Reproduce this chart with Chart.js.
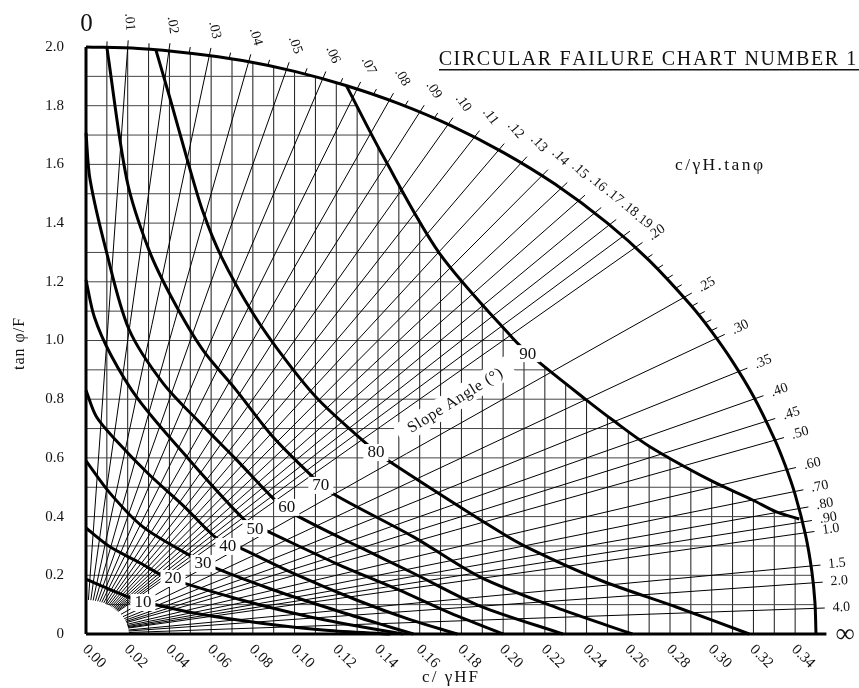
<!DOCTYPE html>
<html>
<head>
<meta charset="utf-8">
<script src="https://cdn.jsdelivr.net/npm/chart.js@4.4.0/dist/chart.umd.min.js"></script>
<style>
  body { margin: 0; background: #fff; }
</style>
</head>
<body>
<canvas id="failureChart" width="859" height="688"></canvas>
<script>
// axis ticks
var xTicks = [0.00, 0.02, 0.04, 0.06, 0.08, 0.10, 0.12, 0.14, 0.16, 0.18, 0.20, 0.22, 0.24, 0.26, 0.28, 0.30, 0.32, 0.34];
var yTicks = [0, 0.2, 0.4, 0.6, 0.8, 1.0, 1.2, 1.4, 1.6, 1.8, 2.0];
var yTickLabels = ['0', '0.2', '0.4', '0.6', '0.8', '1.0', '1.2', '1.4', '1.6', '1.8', '2.0'];

// c/(gamma H tan phi) radial lines
var ratioLines = [0.01, 0.02, 0.03, 0.04, 0.05, 0.06, 0.07, 0.08, 0.09, 0.10, 0.11, 0.12, 0.13, 0.14, 0.15,
  0.16, 0.17, 0.18, 0.19, 0.20, 0.25, 0.30, 0.35, 0.40, 0.45, 0.50, 0.60, 0.70, 0.80, 0.90, 1.0, 1.5, 2.0, 4.0];
var ratioLabels = ['.01', '.02', '.03', '.04', '.05', '.06', '.07', '.08', '.09', '.10', '.11', '.12', '.13', '.14', '.15',
  '.16', '.17', '.18', '.19', '.20', '.25', '.30', '.35', '.40', '.45', '.50', '.60', '.70', '.80', '.90', '1.0', '1.5', '2.0', '4.0'];
var minorTicks = [0.005, 0.015, 0.025, 0.035, 0.045, 0.055, 0.065, 0.075, 0.085, 0.095,
  0.21, 0.22, 0.23, 0.24, 0.26, 0.27, 0.28, 0.29];

// outer and inner boundary of the chart
var outerA = 0.35, outerB = 2.0;
var innerA = 0.0206, innerB = 0.116;
var arcX = [0, 0.025, 0.05, 0.075, 0.10, 0.125, 0.15, 0.175, 0.20, 0.225, 0.25, 0.27, 0.29, 0.30, 0.31, 0.32, 0.33, 0.335, 0.34, 0.345, 0.348, 0.3495, 0.35];
var arcY = [2.0, 1.995, 1.979, 1.954, 1.917, 1.868, 1.807, 1.732, 1.641, 1.532, 1.400, 1.273, 1.120, 1.030, 0.928, 0.810, 0.666, 0.579, 0.475, 0.337, 0.214, 0.107, 0];

// slope angle curves
var slopeAngles = [10, 20, 30, 40, 50, 60, 70, 80, 90];
var curveX = [
  [0, 0.008, 0.0216, 0.032, 0.055, 0.085, 0.115, 0.146],
  [0, 0.0115, 0.026, 0.0369, 0.0465, 0.075, 0.105, 0.13, 0.152],
  [0, 0.0115, 0.0273, 0.0513, 0.061, 0.09, 0.12, 0.14, 0.157],
  [0, 0.005, 0.015, 0.03, 0.047, 0.0633, 0.073, 0.10, 0.13, 0.155, 0.178],
  [0, 0.004, 0.012, 0.025, 0.045, 0.077, 0.0858, 0.12, 0.15, 0.175, 0.20],
  [0, 0.0019, 0.0096, 0.0205, 0.0369, 0.056, 0.072, 0.0915, 0.1006, 0.13, 0.157, 0.189, 0.2286],
  [0.010, 0.0196, 0.0302, 0.0417, 0.056, 0.072, 0.0897, 0.1088, 0.117, 0.157, 0.189, 0.2286, 0.262],
  [0.0335, 0.0402, 0.0484, 0.056, 0.065, 0.080, 0.0958, 0.1116, 0.134, 0.143, 0.197, 0.2113, 0.2463, 0.283, 0.318],
  [0.125, 0.1423, 0.1694, 0.2046, 0.216, 0.240, 0.2525, 0.27, 0.299, 0.3196, 0.331, 0.342]
];
var curveY = [
  [0.187, 0.162, 0.123, 0.102, 0.067, 0.036, 0.013, 0],
  [0.361, 0.297, 0.242, 0.198, 0.174, 0.115, 0.062, 0.027, 0],
  [0.59, 0.48, 0.365, 0.262, 0.228, 0.15, 0.08, 0.036, 0],
  [0.83, 0.74, 0.655, 0.545, 0.435, 0.322, 0.296, 0.205, 0.115, 0.05, 0],
  [1.206, 1.08, 0.95, 0.80, 0.63, 0.382, 0.354, 0.24, 0.15, 0.07, 0],
  [1.707, 1.55, 1.308, 1.04, 0.855, 0.71, 0.595, 0.45, 0.405, 0.30, 0.207, 0.095, 0],
  [1.999, 1.547, 1.308, 1.138, 0.968, 0.831, 0.671, 0.535, 0.484, 0.331, 0.194, 0.082, 0],
  [1.99, 1.827, 1.62, 1.44, 1.284, 1.093, 0.933, 0.797, 0.651, 0.600, 0.354, 0.296, 0.184, 0.092, 0],
  [1.866, 1.63, 1.298, 1.008, 0.933, 0.797, 0.729, 0.64, 0.525, 0.4566, 0.416, 0.392]
];
// where the angle labels sit on each curve
var angleLabelX = [0.0273, 0.0417, 0.0561, 0.068, 0.081, 0.0963, 0.1126, 0.139, 0.2118];
var angleLabelY = [0.109, 0.191, 0.242, 0.300, 0.361, 0.433, 0.508, 0.620, 0.957];
var slopeTitle = 'Slope Angle (°)';
var slopeTitleAt = { x: 0.1768, y: 0.797 };

var SERIF = '"Liberation Serif", "DejaVu Serif", serif';

function toPoints(xs, ys) {
  return xs.map(function (x, i) { return { x: x, y: ys[i] }; });
}
function outerPoint(r) {
  var y = 1 / Math.sqrt((r / outerA) * (r / outerA) + 1 / (outerB * outerB));
  return { x: r * y, y: y };
}
function innerPoint(r) {
  var y = 1 / Math.sqrt((r / innerA) * (r / innerA) + 1 / (innerB * innerB));
  return { x: r * y, y: y };
}
function lineSet(data, width) {
  return { data: data, showLine: true, borderColor: '#000', borderWidth: width, pointRadius: 0, clip: false, tension: 0 };
}
function spacedText(ctx, text, x, y, spacing) {
  // draws text centred on x with extra space between letters
  var total = 0, i;
  for (i = 0; i < text.length; i++) total += ctx.measureText(text[i]).width;
  total += spacing * (text.length - 1);
  var align = ctx.textAlign;
  ctx.textAlign = 'left';
  var pos = x - total / 2;
  for (i = 0; i < text.length; i++) {
    ctx.fillText(text[i], pos, y);
    pos += ctx.measureText(text[i]).width + spacing;
  }
  ctx.textAlign = align;
}

var datasets = [];
// axes
datasets.push(lineSet([{ x: 0, y: 0 }, { x: 0.355, y: 0 }], 3));
datasets.push(lineSet([{ x: 0, y: 0 }, { x: 0, y: 2.0 }], 3));
// slope angle curves
slopeAngles.forEach(function (a, i) {
  var ds = lineSet(toPoints(curveX[i], curveY[i]), 3);
  ds.tension = 0.3;
  datasets.push(ds);
});
// outer arc
var arcSet = lineSet(toPoints(arcX, arcY), 3);
arcSet.tension = 0.3;
datasets.push(arcSet);
// radial lines with their ticks
ratioLines.forEach(function (r) {
  var p = innerPoint(r), q = outerPoint(r);
  datasets.push(lineSet([p, { x: q.x * 1.013, y: q.y * 1.013 }], 1));
});
minorTicks.forEach(function (r) {
  var q = outerPoint(r);
  datasets.push(lineSet([q, { x: q.x * 1.01, y: q.y * 1.01 }], 1));
});

var chartPlugin = {
  id: 'failureChart',
  beforeDatasetsDraw: function (chart) {
    var ctx = chart.ctx, sx = chart.scales.x, sy = chart.scales.y;
    function P(x, y) { return [sx.getPixelForValue(x), sy.getPixelForValue(y)]; }
    var c90x = curveX[8], c90y = curveY[8];
    ctx.save();
    ctx.beginPath();
    var p = P(0, 0);
    ctx.moveTo(p[0], p[1]);
    arcX.forEach(function (x, i) {
      if (x < c90x[0]) { p = P(x, arcY[i]); ctx.lineTo(p[0], p[1]); }
    });
    c90x.forEach(function (x, i) { p = P(x, c90y[i]); ctx.lineTo(p[0], p[1]); });
    arcX.forEach(function (x, i) {
      if (x > c90x[c90x.length - 1] + 0.001) { p = P(x, arcY[i]); ctx.lineTo(p[0], p[1]); }
    });
    ctx.closePath();
    ctx.clip();
    ctx.lineWidth = 1;
    ctx.strokeStyle = '#1a1a1a';
    for (var k = 1; k <= 34; k++) {
      var a = P(k / 100, 0), b = P(k / 100, 2.0);
      ctx.beginPath(); ctx.moveTo(a[0], a[1]); ctx.lineTo(a[0], b[1]); ctx.stroke();
    }
    ctx.strokeStyle = '#444';
    for (k = 1; k <= 19; k++) {
      var c = P(0, k / 10), d = P(0.35, k / 10);
      ctx.beginPath(); ctx.moveTo(c[0], c[1]); ctx.lineTo(d[0], c[1]); ctx.stroke();
    }
    ctx.restore();
    // white area near the origin
    var o = P(0, 0), ra = P(innerA, innerB);
    ctx.save();
    ctx.fillStyle = '#fff';
    ctx.beginPath();
    ctx.moveTo(o[0], o[1]);
    ctx.ellipse(o[0], o[1], ra[0] - o[0], o[1] - ra[1], 0, -Math.PI / 2, 0);
    ctx.closePath();
    ctx.fill();
    ctx.restore();
  },
  afterDatasetsDraw: function (chart) {
    var ctx = chart.ctx, sx = chart.scales.x, sy = chart.scales.y;
    function P(x, y) { return [sx.getPixelForValue(x), sy.getPixelForValue(y)]; }
    var o = P(0, 0);
    ctx.save();
    ctx.fillStyle = '#111';

    // y tick labels
    ctx.font = '15px ' + SERIF;
    ctx.textAlign = 'right';
    ctx.textBaseline = 'middle';
    yTicks.forEach(function (v, i) {
      var p = P(0, v);
      ctx.fillText(yTickLabels[i], 64, p[1]);
    });
    // x tick labels, turned down to the right
    ctx.textAlign = 'left';
    ctx.textBaseline = 'top';
    xTicks.forEach(function (v) {
      var p = P(v, 0);
      ctx.save();
      ctx.translate(p[0] + 4, p[1] + 8);
      ctx.rotate(Math.PI / 4);
      ctx.fillText(v.toFixed(2), 0, 0);
      ctx.restore();
    });

    // radial labels
    ctx.textAlign = 'center';
    ctx.textBaseline = 'middle';
    ctx.font = '14px ' + SERIF;
    ratioLines.forEach(function (r, i) {
      var q = outerPoint(r), p = P(q.x, q.y);
      var dx = p[0] - o[0], dy = p[1] - o[1], len = Math.sqrt(dx * dx + dy * dy);
      dx /= len; dy /= len;
      var ang = Math.atan2(dy, dx);
      ctx.save();
      ctx.translate(p[0] + dx * 26, p[1] + dy * 26);
      ctx.rotate(r < 0.195 ? -ang : ang);
      ctx.fillText(ratioLabels[i], 0, 0);
      ctx.restore();
    });

    // slope angle labels on white boxes
    ctx.font = '17px ' + SERIF;
    slopeAngles.forEach(function (a, i) {
      var p = P(angleLabelX[i], angleLabelY[i]);
      var w = ctx.measureText(String(a)).width;
      ctx.fillStyle = '#fff';
      ctx.fillRect(p[0] - w / 2 - 4, p[1] - 8, w + 8, 17);
      ctx.fillStyle = '#111';
      ctx.fillText(String(a), p[0], p[1] + 1);
    });
    var st = P(slopeTitleAt.x, slopeTitleAt.y);
    ctx.save();
    ctx.translate(st[0], st[1]);
    ctx.rotate(-32 * Math.PI / 180);
    ctx.font = '16px ' + SERIF;
    var tw = ctx.measureText(slopeTitle).width + 14 * 0.6;
    ctx.fillStyle = '#fff';
    ctx.fillRect(-tw / 2 - 12, -11, tw + 24, 22);
    ctx.fillStyle = '#111';
    spacedText(ctx, slopeTitle, 0, 1, 0.6);
    ctx.restore();

    // axis titles and end marks
    ctx.font = '25px ' + SERIF;
    ctx.fillText('0', o[0] + 0.5, 24);
    var inf = P(0.35, 0);
    ctx.font = '27px ' + SERIF;
    ctx.fillText('\u221E', inf[0] + 29, o[1] + 1);
    ctx.font = '17px ' + SERIF;
    spacedText(ctx, 'c/ \u03B3HF', 450, 678, 2);
    ctx.save();
    ctx.translate(20, 344);
    ctx.rotate(-Math.PI / 2);
    ctx.font = '16px ' + SERIF;
    spacedText(ctx, 'tan \u03C6/F', 0, 0, 1);
    ctx.restore();
    ctx.font = '17.5px ' + SERIF;
    spacedText(ctx, 'c/\u03B3H.tan\u03C6', 719, 165, 2.4);

    // title with underline
    ctx.font = '20px ' + SERIF;
    var title = 'CIRCULAR FAILURE CHART NUMBER 1';
    var spacing = (415 - ctx.measureText(title).width) / (title.length - 1);
    ctx.textBaseline = 'alphabetic';
    spacedText(ctx, title, 440 + 415 / 2, 65, spacing);
    ctx.fillRect(439, 69, 420, 1.5);
    ctx.restore();
  }
};

var chart = new Chart(document.getElementById('failureChart').getContext('2d'), {
  type: 'scatter',
  data: { datasets: datasets },
  options: {
    responsive: false,
    animation: false,
    events: [],
    layout: { padding: { left: 86, right: 43, top: 47, bottom: 54 } },
    plugins: { legend: { display: false }, tooltip: { enabled: false } },
    scales: {
      x: { type: 'linear', min: 0, max: 0.35, display: false },
      y: { type: 'linear', min: 0, max: 2.0, display: false }
    }
  },
  plugins: [chartPlugin]
});
</script>
</body>
</html>
